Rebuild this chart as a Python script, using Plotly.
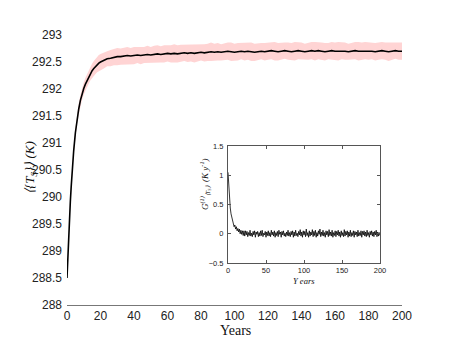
import plotly.graph_objects as go

# main panel: ensemble-mean surface temperature and its spread
years_T = [0, 0.5, 1, 1.5, 2, 2.5, 3, 3.5, 4, 5, 6, 7, 8, 9, 10, 11, 12, 13, 14, 15,
           16, 17, 18, 19, 20, 22, 24, 26, 28, 30, 32, 34, 36, 38, 40] + list(range(42, 201, 2))
mean_T = [288.50, 288.93, 289.30, 289.63, 289.92, 290.19, 290.44, 290.66, 290.86, 291.19,
          291.44, 291.63, 291.79, 291.91, 292.01, 292.09, 292.16, 292.23, 292.29, 292.34,
          292.38, 292.42, 292.45, 292.48, 292.50, 292.53, 292.56, 292.57, 292.59, 292.60,
          292.60, 292.61, 292.62, 292.61, 292.62,
          292.63, 292.62, 292.63, 292.64, 292.63, 292.64, 292.65, 292.64, 292.65, 292.66,
          292.65, 292.66, 292.65, 292.66, 292.67, 292.66, 292.67, 292.66, 292.67, 292.68,
          292.67, 292.68, 292.69, 292.68, 292.69, 292.68, 292.69, 292.70, 292.69, 292.68,
          292.69, 292.70, 292.69, 292.70, 292.69, 292.68, 292.69, 292.70, 292.69, 292.70,
          292.71, 292.70, 292.69, 292.70, 292.71, 292.70, 292.69, 292.70, 292.71, 292.70,
          292.69, 292.70, 292.71, 292.70, 292.71, 292.70, 292.69, 292.70, 292.71, 292.70,
          292.70, 292.71, 292.70, 292.69, 292.70, 292.71, 292.70, 292.70, 292.71, 292.70,
          292.70, 292.69, 292.70, 292.71, 292.70, 292.69, 292.70, 292.71, 292.70, 292.70]
std_T = [0.03, 0.04, 0.04, 0.05, 0.05, 0.06, 0.06, 0.07, 0.07, 0.08,
         0.09, 0.10, 0.10, 0.11, 0.11, 0.12, 0.12, 0.13, 0.13, 0.13,
         0.14, 0.14, 0.14, 0.15, 0.15, 0.15, 0.14, 0.15, 0.15, 0.16,
         0.15, 0.15, 0.16, 0.15, 0.16,
         0.15, 0.16, 0.15, 0.16, 0.15, 0.16, 0.16, 0.15, 0.16, 0.15,
         0.16, 0.17, 0.16, 0.16, 0.15, 0.16, 0.16, 0.17, 0.16, 0.15,
         0.16, 0.16, 0.17, 0.16, 0.16, 0.15, 0.16, 0.16, 0.17, 0.16,
         0.16, 0.15, 0.16, 0.16, 0.17, 0.16, 0.16, 0.15, 0.16, 0.16,
         0.16, 0.17, 0.16, 0.16, 0.15, 0.16, 0.16, 0.17, 0.16, 0.16,
         0.15, 0.16, 0.16, 0.17, 0.16, 0.16, 0.16, 0.15, 0.16, 0.16,
         0.17, 0.16, 0.16, 0.15, 0.16, 0.16, 0.17, 0.16, 0.16, 0.16,
         0.15, 0.16, 0.16, 0.16, 0.16, 0.17, 0.16, 0.15, 0.16, 0.16]

# inset: response function G
years_G = list(range(0, 201))
G = [1.05, 0.78, 0.58, 0.44, 0.34, 0.27, 0.21, 0.19, 0.12, 0.15, 0.08, 0.12, 0.05, 0.09, 0.03, 0.08, 0.00, 0.06, -0.01, 0.05,
     -0.03, 0.05, -0.04, 0.05, -0.02, 0.04, -0.05, 0.02, -0.03, 0.06, -0.04, 0.01, -0.05, 0.04, -0.02, 0.05, -0.06, 0.03, -0.01, 0.04,
     -0.05, 0.02, -0.04, 0.05, -0.03, 0.06, -0.05, 0.01, -0.02, 0.04, -0.06, 0.03, -0.03, 0.05, -0.04, 0.02, -0.05, 0.06, -0.02, 0.03,
     -0.04, 0.05, -0.06, 0.02, -0.03, 0.04, -0.05, 0.06, -0.01, 0.03, -0.06, 0.04, -0.02, 0.05, -0.04, 0.01, -0.05, 0.03, -0.03, 0.06,
     -0.04, 0.02, -0.05, 0.04, -0.02, 0.05, -0.06, 0.03, -0.04, 0.06, -0.03, 0.01, -0.05, 0.04, -0.02, 0.07, -0.04, 0.03, -0.06, 0.05,
     -0.02, 0.04, -0.05, 0.08, -0.03, 0.02, -0.06, 0.05, -0.04, 0.03, -0.02, 0.07, -0.05, 0.04, -0.03, 0.06, -0.06, 0.02, -0.04, 0.05,
     -0.01, 0.08, -0.05, 0.03, -0.03, 0.06, -0.04, 0.02, -0.06, 0.05, -0.02, 0.04, -0.05, 0.07, -0.03, 0.03, -0.04, 0.06, -0.06, 0.02,
     -0.03, 0.05, -0.05, 0.04, -0.02, 0.06, -0.04, 0.03, -0.06, 0.05, -0.03, 0.02, -0.05, 0.07, -0.04, 0.04, -0.02, 0.05, -0.06, 0.03,
     -0.04, 0.06, -0.05, 0.02, -0.03, 0.05, -0.06, 0.04, -0.02, 0.03, -0.05, 0.06, -0.04, 0.02, -0.03, 0.05, -0.06, 0.04, -0.02, 0.05,
     -0.04, 0.03, -0.05, 0.06, -0.03, 0.02, -0.06, 0.04, -0.02, 0.05, -0.04, 0.03, -0.05, 0.04, -0.02, 0.06, -0.05, 0.03, -0.04, 0.02,
     -0.03]

x_ticks = [0, 20, 40, 60, 80, 100, 120, 140, 160, 180, 200]
y_ticks = [288, 288.5, 289, 289.5, 290, 290.5, 291, 291.5, 292, 292.5, 293]

upper = [m + s for m, s in zip(mean_T, std_T)]
lower = [m - s for m, s in zip(mean_T, std_T)]

W, H, OFF = 455, 352, 8  # the page body adds an 8px offset


def px(x):
    return (x - OFF) / W


def py(y):
    return (H + OFF - y) / H


fig = go.Figure()
fig.add_trace(go.Scatter(
    x=years_T + years_T[::-1], y=upper + lower[::-1],
    fill="toself", fillcolor="rgb(255,212,212)", line=dict(width=0),
    hoverinfo="skip", showlegend=False,
))
fig.add_trace(go.Scatter(x=years_T, y=mean_T, mode="lines",
                         line=dict(color="black", width=1.6), showlegend=False))
fig.add_trace(go.Scatter(x=years_G, y=G, mode="lines", xaxis="x2", yaxis="y2",
                         line=dict(color="black", width=0.8), showlegend=False))

tick_font = dict(family="Liberation Sans, Arial, sans-serif", size=12, color="#222")
small_font = dict(family="Liberation Sans, Arial, sans-serif", size=7.5, color="#222")

stray = dict(ticks="inside", ticklen=4, tickcolor="#555", tickwidth=1,
             showticklabels=False, showgrid=False, zeroline=False,
             showline=False, automargin=False)
serif = "Liberation Serif, serif"

fig.update_layout(
    width=W, height=H,
    margin=dict(l=0, r=0, t=0, b=0),
    paper_bgcolor="white", plot_bgcolor="rgba(0,0,0,0)",
    xaxis=dict(domain=[px(67), px(402)], range=[0, 200], tickvals=x_ticks,
               ticks="", showline=True, linecolor="#777", linewidth=1,
               showgrid=False, zeroline=False, tickfont=tick_font, anchor="y",
               automargin=False, ticklabelstandoff=0),
    yaxis=dict(domain=[py(305), py(35)], range=[288, 293], tickvals=y_ticks,
               ticktext=["288", "288.5", "289", "289.5", "290", "290.5", "291",
                         "291.5", "292", "292.5", "293"],
               ticks="", showline=False, showgrid=False, zeroline=False,
               tickfont=tick_font, anchor="x", ticklabelstandoff=4,
               automargin=False),
    # stray tick marks on the main frame
    xaxis3=dict(domain=[px(67), px(402)], anchor="y3", side="bottom", range=[0, 200],
                tickvals=[20, 40, 80, 100, 180], **stray),
    yaxis3=dict(domain=[py(305), py(35)], anchor="x3", side="left", range=[288, 293],
                tickvals=[288.5, 291.5, 292], **stray),
    xaxis4=dict(domain=[px(67), px(402)], anchor="y4", side="top", range=[0, 200],
                tickvals=[20, 40, 100, 180], **stray),
    yaxis4=dict(domain=[py(305), py(35)], anchor="x4", side="right", range=[288, 293],
                tickvals=[288.5, 289, 289.5, 290, 291.5, 292], **stray),
    # inset
    xaxis2=dict(domain=[px(228), px(380)], range=[0, 200],
                tickvals=[0, 50, 100, 150, 200], ticks="inside", ticklen=3,
                tickcolor="#555", showline=True, linecolor="#555", linewidth=1,
                mirror="ticks", showgrid=False, zeroline=False,
                tickfont=small_font, anchor="y2", ticklabelstandoff=0,
                automargin=False),
    yaxis2=dict(domain=[py(263), py(146)], range=[-0.5, 1.5],
                tickvals=[-0.5, 0, 0.5, 1, 1.5], ticks="inside", ticklen=3,
                tickcolor="#555", showline=True, linecolor="#555", linewidth=1,
                mirror="ticks", showgrid=False, zeroline=False,
                tickfont=small_font, anchor="x2", ticklabelstandoff=2,
                automargin=False),
    annotations=[
        dict(text="Years", x=px(235), y=py(330),
             font=dict(family=serif, size=14, color="#111")),
        dict(text="<i>⟨{T<sub>S</sub>}⟩ (K)</i>", x=px(30), y=py(168),
             textangle=-90, font=dict(family=serif, size=13, color="#111")),
        dict(text="<i>Y ears</i>", x=px(304), y=py(281),
             font=dict(family=serif, size=8.5, color="#111")),
        dict(text="<i>G<sup>(1)</sup><sub>⟨T<sub>S</sub>⟩</sub>  (K y<sup>-1</sup>)</i>",
             x=px(205), y=py(184), textangle=-90,
             font=dict(family=serif, size=9, color="#111")),
    ],
)
fig.update_annotations(xref="paper", yref="paper", showarrow=False,
                       xanchor="center", yanchor="middle")

fig.write_html("out.html")
